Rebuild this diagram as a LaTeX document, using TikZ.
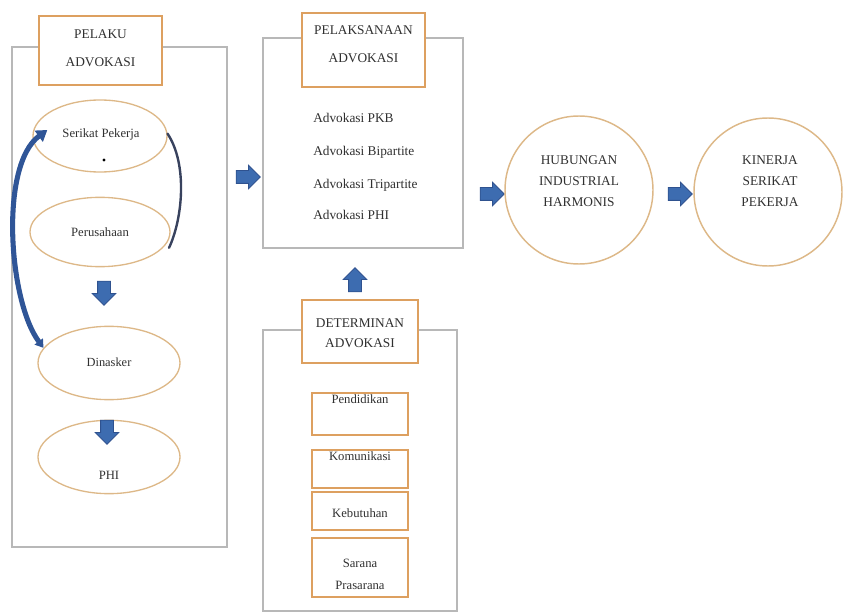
\documentclass[tikz,border=0pt]{standalone}
\usepackage{fontspec}
\setmainfont{Liberation Serif}
\usetikzlibrary{shapes.geometric,shapes.arrows,arrows.meta}
\definecolor{boxgray}{HTML}{B8B8B8}
\definecolor{titleor}{HTML}{DDA060}
\definecolor{elltan}{HTML}{DDB888}
\definecolor{arrblue}{HTML}{3D6CB0}
\definecolor{arrdark}{HTML}{2F528F}
\definecolor{curveblue}{HTML}{2F5597}
\definecolor{curvenavy}{HTML}{38425E}
\definecolor{txt}{HTML}{303030}
\begin{document}
\begin{tikzpicture}[x=0.75pt,y=-0.75pt,
  outerbox/.style={draw=boxgray,line width=0.8pt},
  titlebox/.style={draw=titleor,fill=white,line width=1.3pt},
  titletext/.style={font=\fontsize{10}{21}\selectfont,align=center,text=txt,inner sep=0pt},
  ellnode/.style={ellipse,draw=elltan,line width=1pt,minimum width=#1},
  elltext/.style={font=\fontsize{9.5}{11}\selectfont,text=txt,inner sep=0pt},
  itemtext/.style={font=\fontsize{10}{12}\selectfont,text=txt,anchor=west,inner sep=0pt},
  smallbox/.style={draw=titleor,line width=0.8pt},
  circnode/.style={circle,draw=elltan,line width=1.1pt,minimum size=111pt},
  circtext/.style={font=\fontsize{10}{16}\selectfont,align=center,text=txt,inner sep=0pt},
  barrow/.style={single arrow,fill=arrblue,draw=arrdark,line width=0.6pt,
    minimum height=18pt,inner sep=4.5pt,single arrow head extend=4pt,
    single arrow head indent=0pt}]
\useasboundingbox (0,0) rectangle (847,613);

% ---------- PELAKU ADVOKASI ----------
\draw[outerbox] (12,47) rectangle (227,547);
\node[titlebox,minimum width=92pt,minimum height=52pt] (pelaku) at (100.5,50.5) {};
\node[titletext] (pelakut) at (100.5,48) {PELAKU\\ADVOKASI};

\node[ellnode=100.5pt,minimum height=54pt] (ser) at (100,136) {};
\node[elltext] (sert) at (101,134) {Serikat Pekerja};
\fill[black] (104,160) circle (1.6);
\node[ellnode=105pt,minimum height=52pt] (per) at (100,232) {};
\node[elltext] (pert) at (100,232) {Perusahaan};
\node[ellnode=106.5pt,minimum height=55pt] (din) at (109,363) {};
\node[elltext,font=\fontsize{9.3}{10}\selectfont] (dint) at (109,362) {Dinasker};
\node[ellnode=106.5pt,minimum height=55pt] (phi) at (109,457) {};
\node[elltext] (phit) at (109,475) {PHI};

\node[barrow,shape border rotate=270] (d1) at (104,290) {};
\node[barrow,shape border rotate=270] (d2) at (107,429) {};

\draw[curveblue,line width=3.8pt,{Triangle[length=6pt,width=7.5pt]}-{Triangle[length=8pt,width=10pt]}]
  (din.167) .. controls +(-35,-47) and +(-48,35) .. ([shift={(15,-6)}]ser.west);
\draw[curvenavy,line width=1.8pt,line cap=round]
  (ser.2) .. controls +(20,30) and +(14,-30) .. ([shift={(4,2)}]per.-12);

% ---------- arrow to PELAKSANAAN ----------
\node[barrow] (r1) at (245,177) {};

% ---------- PELAKSANAAN ADVOKASI ----------
\draw[outerbox] (263,38) rectangle (463,248);
\node[titlebox,minimum width=92pt,minimum height=55.5pt] (pel) at (363.5,50) {};
\node[titletext] (pelt) at (363.5,44) {PELAKSANAAN\\ADVOKASI};
\node[itemtext] (i1) at (313,118) {Advokasi PKB};
\node[itemtext] (i2) at (313,152) {Advokasi Bipartite};
\node[itemtext] (i3) at (313,185) {Advokasi Tripartite};
\node[itemtext] (i4) at (313,215) {Advokasi PHI};

\node[barrow,shape border rotate=90] (u1) at (355,283) {};

% ---------- DETERMINAN ADVOKASI ----------
\draw[outerbox] (263,330) rectangle (457,611);
\node[titlebox,minimum width=87pt,minimum height=47pt] (det) at (360,331.5) {};
\node[titletext,font=\fontsize{10}{15}\selectfont] (dett) at (360,333) {DETERMINAN\\ADVOKASI};
\draw[smallbox] (312,393) rectangle (408,435);
\node[elltext] (b1) at (360,399) {Pendidikan};
\draw[smallbox] (312,450) rectangle (408,488);
\draw[titleor,line width=1.8pt] (312,488) -- (408,488);
\node[elltext] (b2) at (360,456) {Komunikasi};
\draw[smallbox] (312,492) rectangle (408,530);
\node[elltext] (b3) at (360,513) {Kebutuhan};
\draw[smallbox] (312,538) rectangle (408,597);
\node[elltext,align=center,font=\fontsize{9.5}{16.5}\selectfont] (b4) at (360,574) {Sarana\\Prasarana};

% ---------- circles ----------
\node[barrow] (r2) at (489,194) {};
\node[circnode] (hub) at (579,190) {};
\node[circtext] (hubt) at (579,181) {HUBUNGAN\\INDUSTRIAL\\HARMONIS};
\node[barrow] (r3) at (677,194) {};
\node[circnode] (kin) at (768,192) {};
\node[circtext] (kint) at (770,181) {KINERJA\\SERIKAT\\PEKERJA};
\end{tikzpicture}
\end{document}
